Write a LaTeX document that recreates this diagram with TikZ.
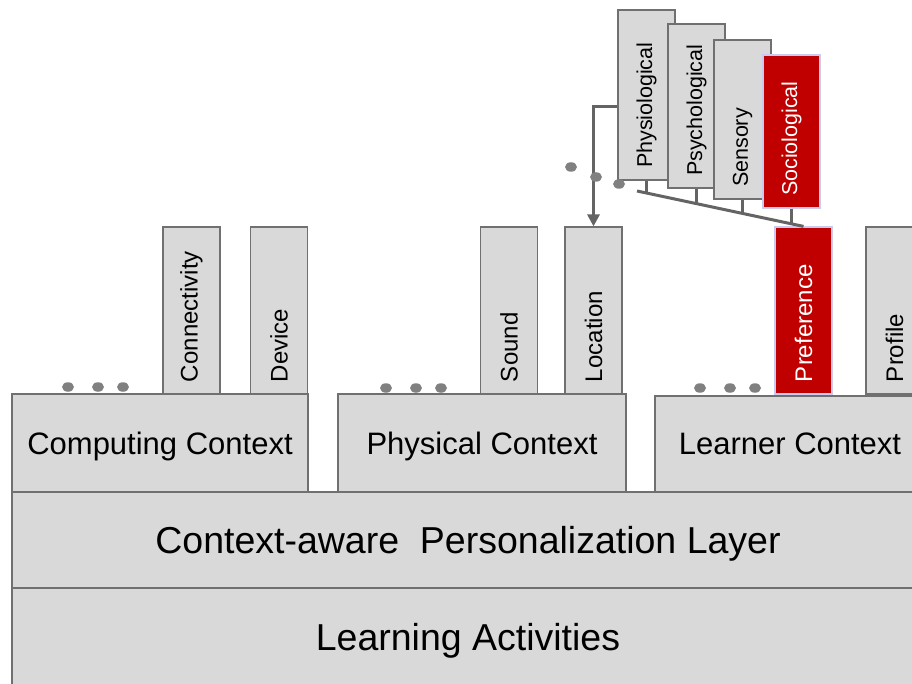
\documentclass[tikz,border=0pt]{standalone}
\usepackage{fontspec}
\setmainfont{Liberation Sans}
\usepackage{xcolor}
\usetikzlibrary{shapes,arrows.meta,positioning,calc}
\definecolor{boxgray}{RGB}{217,217,217}
\definecolor{linegray}{RGB}{112,112,112}
\definecolor{linkgray}{RGB}{100,100,100}
\definecolor{dotgray}{RGB}{128,128,128}
\definecolor{ctxred}{RGB}{192,0,0}
\definecolor{redline}{RGB}{200,204,240}

\tikzset{
  layer/.style={rectangle, draw=linegray, line width=1.2pt, fill=boxgray, inner sep=0pt, text depth=0pt, font=\fontsize{37.5}{40}\selectfont},
  ctx/.style={layer, font=\fontsize{31}{34}\selectfont},
  facet/.style={rectangle, draw=linegray, line width=1.2pt, fill=boxgray, rotate=90, minimum height=57pt, inner xsep=12pt, text width=#1, align=left, font=\fontsize{24}{26}\selectfont},
  subfacet/.style={facet=#1, font=\fontsize{21.5}{23}\selectfont},
  hilite/.style={fill=ctxred, draw=redline, text=white},
  link/.style={draw=linkgray, line width=3pt},
  dot/.style={ellipse, fill=dotgray, minimum width=12pt, minimum height=9.5pt, inner sep=0pt}
}

\begin{document}
\begin{tikzpicture}[x=1pt, y=-1pt]
  \useasboundingbox (0,0) rectangle (912,684);

  % layers
  \node[layer, minimum width=912pt, minimum height=98pt] (activities) at (468,637) {Learning Activities};
  \node[layer, minimum width=912pt, minimum height=96pt] (personal) at (468,540) {Context-aware~~Personalization Layer};

  % contexts
  \node[ctx, minimum width=296pt, minimum height=98pt] (computing) at (160,443) {Computing Context};
  \node[ctx, minimum width=288pt, minimum height=98pt] (physical) at (482,443) {Physical Context};
  \node[ctx, minimum width=270pt, minimum height=96pt] (learner) at (790,444) {Learner Context};

  % facets
  \node[facet=143pt] (connectivity) at (191.5,310.5) {Connectivity};
  \node[facet=143pt] (device) at (279,310.5) {Device};
  \node[facet=143pt] (sound) at (509,310.5) {Sound};
  \node[facet=143pt] (location) at (593.5,310.5) {Location};
  \node[facet=143pt, hilite] (preference) at (803.5,310.5) {Preference};
  \node[facet=143pt] (profile) at (894.5,310.5) {Profile};

  % preference kinds
  \node[subfacet=146pt] (physiological) at (646.5,95) {Physiological};
  \node[subfacet=140pt] (psychological) at (696.5,106) {Psychological};
  \node[subfacet=135pt] (sensory) at (742.5,119.5) {Sensory};
  \node[subfacet=129pt, hilite] (sociological) at (791.5,131.5) {Sociological};

  % connectors
  \coordinate (brace) at (637,191);
  \draw[link] (brace) -- (preference.east);
  \foreach \n/\f in {physiological/0.06, psychological/0.36, sensory/0.63, sociological/0.93} {
    \path ($(brace)!\f!(preference.east)$) coordinate (tick);
    \draw[link] (\n.west) -- (\n.west |- tick);
  }
  \draw[link, -{Triangle[length=12pt, width=12pt]}] ([yshift=-12pt]physiological.north) -| (location.east);

  % dots
  \foreach \x/\y [count=\i] in {68/387, 98/387, 123/387, 386/388, 416/388, 441/388, 700/388, 730/388, 755/388, 571/167, 596/177, 619/184}
    \node[dot] (dot\i) at (\x,\y) {};
\end{tikzpicture}
\end{document}
